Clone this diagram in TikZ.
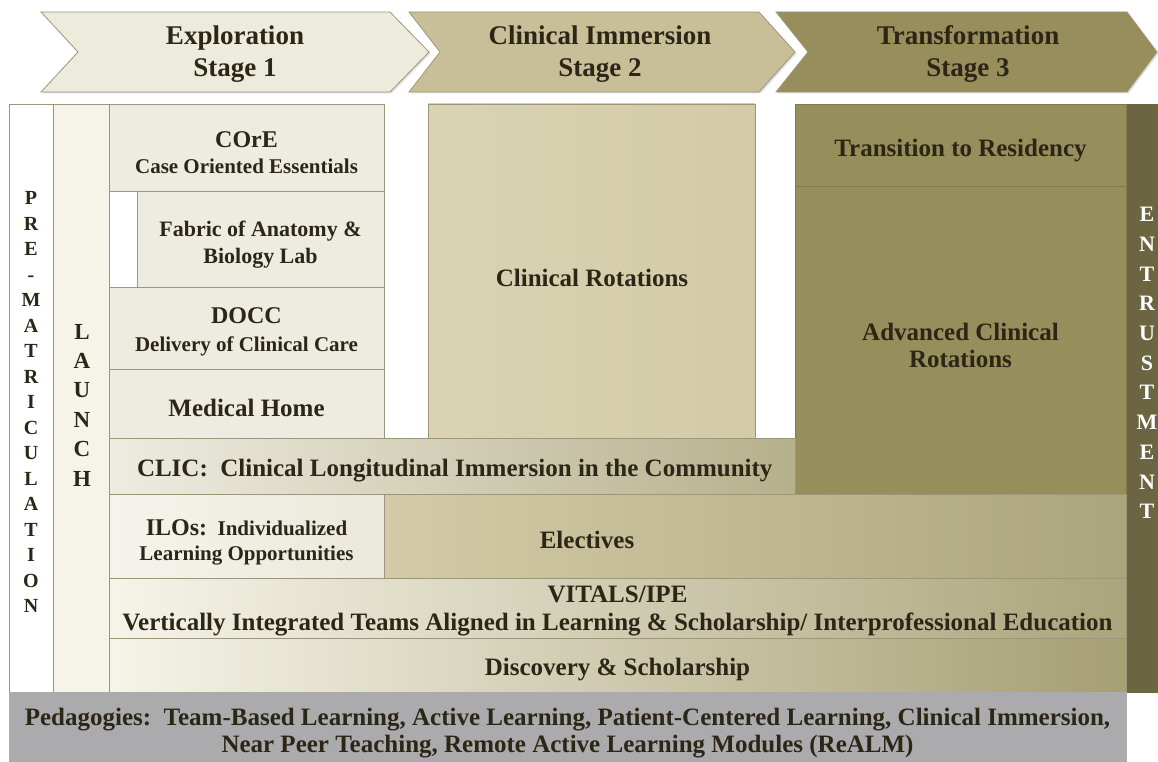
\documentclass[tikz,border=0pt]{standalone}
\usepackage{fontspec}
\setmainfont{Liberation Serif}
\usetikzlibrary{shadows}

\definecolor{txtcol}{HTML}{2B2616}
\definecolor{edgecol}{HTML}{9C977C}
\definecolor{stageA}{HTML}{EDEBDC}
\definecolor{stageB}{HTML}{C8BF98}
\definecolor{stageC}{HTML}{978E5C}
\definecolor{paleA}{HTML}{EEECE0}
\definecolor{creamA}{HTML}{F6F4E8}
\definecolor{tanA}{HTML}{D3CBA7}
\definecolor{oliveA}{HTML}{968E5B}
\definecolor{oliveB}{HTML}{6B6541}
\definecolor{grayA}{HTML}{ABABAD}

\begin{document}
\begin{tikzpicture}[x=1pt, y=-1pt,
    every node/.style={font=\bfseries, text=txtcol, inner sep=0pt, outer sep=0pt},
    box/.style={draw=edgecol, line width=0.8pt, rectangle},
    stagearrow/.style={draw=edgecol, line width=0.8pt,
        drop shadow={opacity=0.25, shadow xshift=1.5pt, shadow yshift=-1.5pt}}]
    %--------------------%
    % Parameters
    %--------------------%
    \def\stagesize{\fontsize{27}{32}\selectfont}
    \def\mainsize{\fontsize{25}{27}\selectfont}
    \def\subsize{\fontsize{21}{26}\selectfont}
    \def\titlesize{\fontsize{24}{26}\selectfont}
    \def\lettersize{\fontsize{20}{25.5}\selectfont}

    \fill[white] (0,0) rectangle (1158,762);
    \useasboundingbox (0,0) rectangle (1158,762);

    %--------------------%
    % Stage Arrows
    %--------------------%
    \draw[stagearrow, fill=stageA] (41,12) -- (390,12) -- (429,52) -- (390,92) -- (41,92) -- (78,52) -- cycle;
    \draw[stagearrow, fill=stageB] (409,12) -- (759,12) -- (795,52) -- (759,92) -- (409,92) -- (440,52) -- cycle;
    \draw[stagearrow, fill=stageC] (776,12) -- (1127,12) -- (1157,52) -- (1127,92) -- (776,92) -- (808,52) -- cycle;

    \node[align=center, font=\bfseries\stagesize] (stage1) at (235,54) {Exploration\\Stage 1};
    \node[align=center, font=\bfseries\stagesize] (stage2) at (600,54) {Clinical Immersion\\Stage 2};
    \node[align=center, font=\bfseries\stagesize] (stage3) at (968,54) {Transformation\\Stage 3};

    %--------------------%
    % Side Columns
    %--------------------%
    \node[box, fill=white, minimum width=44pt, minimum height=588pt] (premat) at (31,398) {};
    \node[box, fill=creamA, minimum width=56pt, minimum height=588pt] (launch) at (81,398) {};
    \node[box, fill=oliveB, draw=oliveB, minimum width=32pt, minimum height=588pt] (entrust) at (1142,398) {};

    \node[align=center, font=\bfseries\lettersize] (prematletters) at (31,402)
        {P\\R\\E\\-\\M\\A\\T\\R\\I\\C\\U\\L\\A\\T\\I\\O\\N};
    \node[align=center, font=\bfseries\fontsize{23}{29.4}\selectfont] (launchletters) at (82,405)
        {L\\A\\U\\N\\C\\H};
    \node[align=center, text=white, font=\bfseries\fontsize{22}{29.7}\selectfont] (entrustletters) at (1147,363)
        {E\\N\\T\\R\\U\\S\\T\\M\\E\\N\\T};

    %--------------------%
    % Stage 1 Blocks
    %--------------------%
    \node[box, fill=paleA, minimum width=275pt, minimum height=87pt] (core) at (246.5,147.5) {};
    \node[box, fill=paleA, minimum width=247pt, minimum height=96pt] (fabric) at (260.5,239) {};
    \node[box, fill=paleA, minimum width=275pt, minimum height=82pt] (docc) at (246.5,328) {};
    \node[box, fill=paleA, minimum width=275pt, minimum height=69pt] (medhome) at (246.5,403.5) {};

    \node[align=center, font=\bfseries\fontsize{21}{26}\selectfont] (coretext) at (246.5,153)
        {{\titlesize COrE}\\Case Oriented Essentials};
    \node[align=center, font=\bfseries\fontsize{22}{27}\selectfont] (fabrictext) at (260.5,245)
        {Fabric of Anatomy \&\\Biology Lab};
    \node[align=center, font=\bfseries\fontsize{21}{28}\selectfont] (docctext) at (246.5,332)
        {{\titlesize DOCC}\\Delivery of Clinical Care};
    \node[font=\bfseries\mainsize] (medhometext) at (246.5,408) {Medical Home};

    %--------------------%
    % Stage 2 and 3 Blocks
    %--------------------%
    \node[box, left color=tanA!85!white, right color=tanA, minimum width=327pt, minimum height=334pt] (clinrot) at (591.5,271) {};
    \node[box, fill=oliveA, draw=oliveA!85!black, minimum width=331pt, minimum height=308pt] (advrot) at (960.5,340) {};
    \node[box, fill=oliveA, draw=oliveA!85!black, minimum width=331pt, minimum height=82pt] (residency) at (960.5,145) {};

    \node[font=\bfseries\mainsize] (clinrottext) at (592,278) {Clinical Rotations};
    \node[align=center, font=\bfseries\mainsize] (advrottext) at (960.5,345) {Advanced Clinical\\Rotations};
    \node[font=\bfseries\mainsize] (residencytext) at (960.5,151) {Transition to Residency};

    %--------------------%
    % Longitudinal Bands
    %--------------------%
    \node[box, left color=paleA, right color=oliveA!70!white, minimum width=686pt, minimum height=56pt] (clic) at (452,466) {};
    \node[anchor=west, font=\bfseries\mainsize] (clictext) at (137,471) {CLIC:\ \ Clinical Longitudinal Immersion in the Community};

    \node[box, left color=paleA!60!white, right color=paleA!90!tanA, minimum width=275pt, minimum height=84pt] (ilos) at (246.5,536) {};
    \node[align=center, font=\bfseries\fontsize{21}{25}\selectfont] (ilostext) at (246.5,542)
        {{\titlesize ILOs:}\ \ Individualized\\Learning Opportunities};

    \node[box, left color=tanA, right color=oliveA!80!white, minimum width=742pt, minimum height=84pt] (electives) at (755,536) {};
    \node[font=\bfseries\mainsize] (electivestext) at (587,540) {Electives};

    \node[box, left color=creamA, right color=oliveA!80!white, minimum width=1017pt, minimum height=60pt] (vitals) at (617.5,608) {};
    \node[align=center, font=\bfseries\fontsize{25}{28}\selectfont] (vitalstext) at (617.5,611)
        {VITALS/IPE\\Vertically Integrated Teams Aligned in Learning \& Scholarship/ Interprofessional Education};

    \node[box, left color=creamA, right color=oliveA!85!white, minimum width=1017pt, minimum height=54pt] (discovery) at (617.5,665) {};
    \node[font=\bfseries\mainsize] (discoverytext) at (617.5,670) {Discovery \& Scholarship};

    %--------------------%
    % Pedagogies
    %--------------------%
    \node[box, fill=grayA, draw=grayA, minimum width=1117pt, minimum height=70pt] (pedag) at (567.5,727) {};
    \node[align=center, font=\bfseries\mainsize] (pedagtext) at (567.5,733)
        {Pedagogies:\ \ Team-Based Learning, Active Learning, Patient-Centered Learning, Clinical Immersion,\\Near Peer Teaching, Remote Active Learning Modules (ReALM)};

\end{tikzpicture}
\end{document}
